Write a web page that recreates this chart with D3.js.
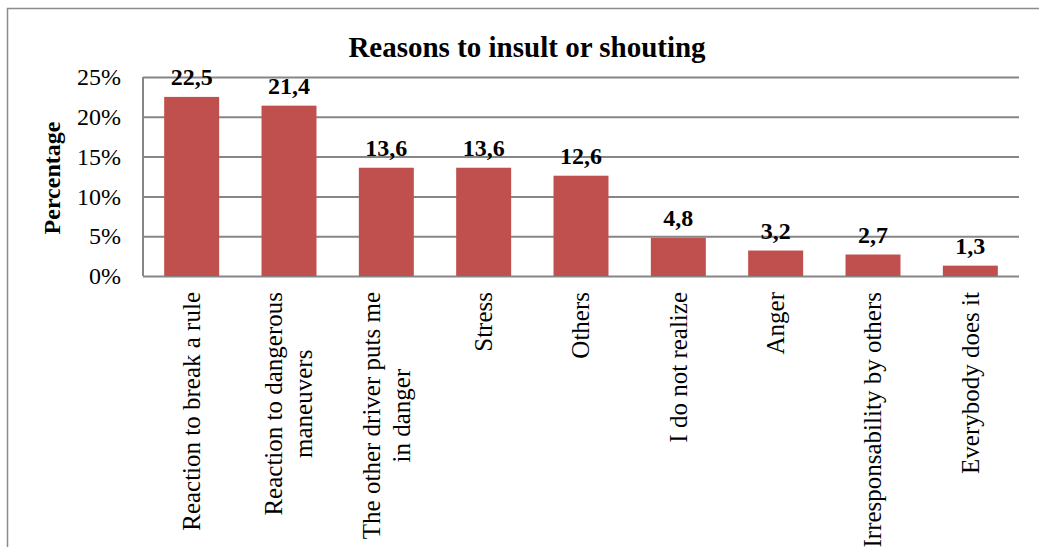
<!DOCTYPE html>
<html>
<head>
<meta charset="utf-8">
<script src="https://cdn.jsdelivr.net/npm/d3@7"></script>
<style>
  body { margin: 0; background: #fff; }
  svg { display: block; font-family: 'Liberation Serif', 'Times New Roman', serif; }
</style>
</head>
<body>
<svg id="chart"></svg>
<script>
let categories = [
    ['Reaction to break a rule'],
    ['Reaction to dangerous', 'maneuvers'],
    ['The other driver puts me', 'in danger'],
    ['Stress'],
    ['Others'],
    ['I do not realize'],
    ['Anger'],
    ['Irresponsability by others'],
    ['Everybody does it']
];
let values = [22.5, 21.4, 13.6, 13.6, 12.6, 4.8, 3.2, 2.7, 1.3];
let valueLabels = ['22,5', '21,4', '13,6', '13,6', '12,6', '4,8', '3,2', '2,7', '1,3'];
let yTicks = [0, 5, 10, 15, 20, 25];

function getConfig() {
    let width = 1039;
    let height = 547;
    let margin = { top: 77, left: 143, right: 20, bottom: 271 };
    let container = d3.select('#chart')
        .attr('width', width)
        .attr('height', height);
    return { width, height, margin, container };
}

function getScales(config) {
    let { width, height, margin } = config;
    let xScale = d3.scaleBand()
        .domain(d3.range(values.length))
        .range([margin.left, width - margin.right])
        .paddingInner(0.435)
        .paddingOuter(0.2175);
    let yScale = d3.scaleLinear()
        .domain([0, 25])
        .range([height - margin.bottom, margin.top]);
    return { xScale, yScale };
}

function drawFrame(config) {
    let { container, width, height } = config;
    // outer chart border, runs off the right and bottom edge
    container.append('rect')
        .attr('x', 7.5).attr('y', 8.5)
        .attr('width', width + 20).attr('height', height + 20)
        .attr('fill', 'none')
        .attr('stroke', '#8c8c8c')
        .attr('stroke-width', 1.5);

    container.append('text')
        .attr('x', 527).attr('y', 57)
        .attr('text-anchor', 'middle')
        .attr('font-size', 29)
        .attr('font-weight', 'bold')
        .text('Reasons to insult or shouting');
}

function drawAxes(config, scales) {
    let { container, margin, width } = config;
    let { xScale, yScale } = scales;

    let axisY = d3.axisLeft(yScale)
        .tickValues(yTicks)
        .tickSize(-(width - margin.right - margin.left))
        .tickPadding(22)
        .tickFormat(d => d + '%');

    let gy = container.append('g')
        .attr('transform', `translate(${margin.left},0)`)
        .call(axisY);
    gy.select('.domain')
        .attr('d', `M0,${yScale(25)}V${yScale(0)}`)
        .attr('stroke', '#868686')
        .attr('stroke-width', 2);
    gy.selectAll('.tick line')
        .attr('stroke', '#868686')
        .attr('stroke-width', 2);
    gy.selectAll('.tick text')
        .attr('font-family', 'Liberation Serif, Times New Roman, serif')
        .attr('font-size', 24)
        .attr('fill', '#000');

    container.append('text')
        .attr('transform', `translate(60,178) rotate(-90)`)
        .attr('text-anchor', 'middle')
        .attr('font-size', 24)
        .attr('font-weight', 'bold')
        .text('Percentage');

    // category labels, rotated, top-anchored, lines centred on each other
    let top = yScale(0) + 16;
    categories.forEach((lines, i) => {
        let cx = xScale(i) + xScale.bandwidth() / 2;
        let g = container.append('g')
            .attr('transform', `translate(${cx},${top}) rotate(-90)`);
        let texts = lines.map((line, j) => g.append('text')
            .attr('font-size', 25)
            .attr('text-anchor', 'middle')
            .attr('y', (j - (lines.length - 1) / 2) * 30)
            .attr('dy', '0.33em')
            .text(line));
        let maxLen = d3.max(texts, t => t.node().getComputedTextLength());
        texts.forEach(t => t.attr('x', -maxLen / 2));
    });
}

function drawBars(config, scales) {
    let { container } = config;
    let { xScale, yScale } = scales;

    container.append('g').selectAll('rect')
        .data(values)
        .enter().append('rect')
        .attr('x', (d, i) => xScale(i))
        .attr('y', d => yScale(d))
        .attr('width', xScale.bandwidth())
        .attr('height', d => yScale(0) - yScale(d))
        .attr('fill', '#c0504d');

    container.append('g').selectAll('text')
        .data(values)
        .enter().append('text')
        .attr('x', (d, i) => xScale(i) + xScale.bandwidth() / 2)
        .attr('y', d => yScale(d) - 12)
        .attr('text-anchor', 'middle')
        .attr('font-size', 24)
        .attr('font-weight', 'bold')
        .text((d, i) => valueLabels[i]);
}

let config = getConfig();
let scales = getScales(config);
drawFrame(config);
drawAxes(config, scales);
drawBars(config, scales);
</script>
</body>
</html>
